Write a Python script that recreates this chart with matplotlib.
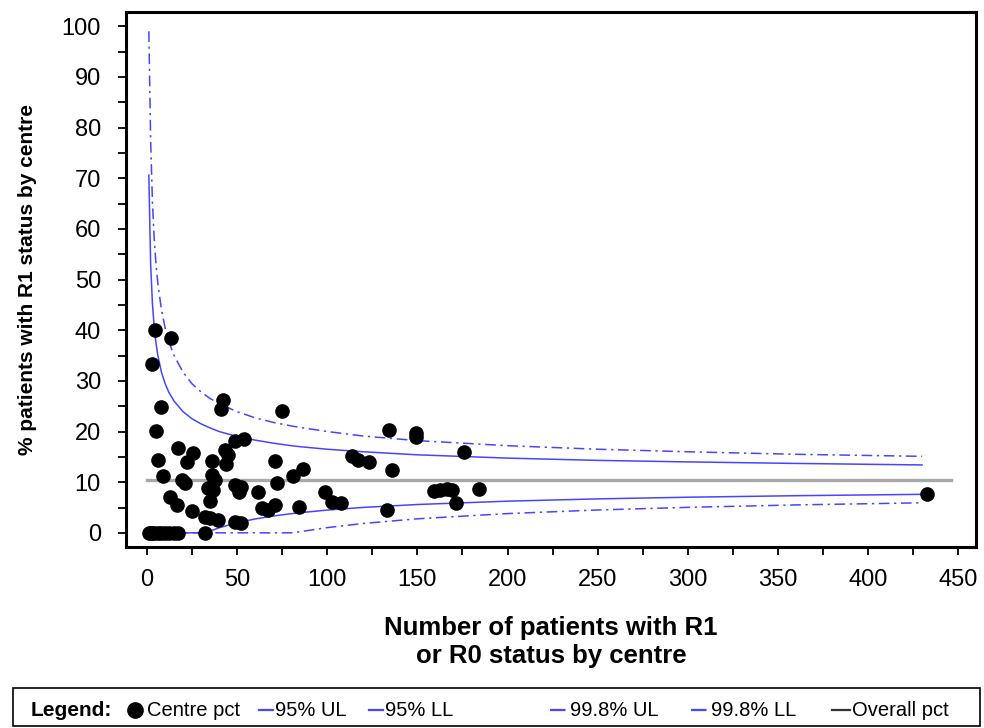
import numpy as np
import matplotlib
matplotlib.use("Agg")
import matplotlib.pyplot as plt
from matplotlib.lines import Line2D

plt.rcParams['font.family'] = ['Liberation Sans', 'DejaVu Sans']

# ==========================================================
# DATA: centre pct (n patients, % with R1)
# ==========================================================

centre_n = [1, 2, 3, 4, 6, 8, 10, 12, 15, 17,
            4.4, 13.1, 2.9, 42, 41, 7.8, 4.8,
            49, 54, 17.4, 25.7, 43, 45, 44, 6.3, 22, 36,
            9.1, 19.2, 21.1, 36, 37.7, 34, 36.8, 49, 51, 52,
            12.8, 16.5, 35, 24.8, 32.2, 35, 39.6, 49, 52, 32.2,
            75, 71, 86.8, 81.2, 72, 61.4, 63.6, 67.3, 71, 84.4,
            98.8, 102.5, 107.7,
            134.5, 149, 149, 113.6, 117.3, 123.4, 136.1, 175.9, 184.4,
            159, 162.6, 166.3, 169, 171.3, 133.4, 433]
centre_pct = [0, 0, 0, 0, 0, 0, 0, 0, 0, 0,
              40.0, 38.5, 33.3, 26.2, 24.5, 24.9, 20.1,
              18.2, 18.6, 16.7, 15.7, 16.4, 15.3, 13.6, 14.3, 13.9, 14.1,
              11.2, 10.4, 9.8, 11.4, 10.4, 8.8, 8.5, 9.5, 8.0, 9.0,
              7.0, 5.5, 6.2, 4.4, 3.2, 2.9, 2.6, 2.2, 1.9, 0,
              24.1, 14.2, 12.6, 11.2, 9.8, 8.1, 4.9, 4.5, 5.5, 5.1,
              8.1, 6.0, 5.9,
              20.3, 19.7, 18.9, 15.1, 14.4, 13.9, 12.4, 16.0, 8.7,
              8.2, 8.5, 8.6, 8.4, 5.9, 4.5, 7.7]

# control limits
limit_n = [1, 2, 3, 4, 5, 6, 8, 10, 12, 15, 20, 25, 30, 35, 40, 50, 60,
           70, 80, 85, 100, 120, 150, 200, 250, 300, 360, 430]
ul95 = [70.6, 53.0, 45.2, 40.5, 37.4, 35.0, 31.7, 29.5, 27.8, 26.0, 23.9,
        22.5, 21.5, 20.7, 20.0, 19.0, 18.3, 17.7, 17.2, 17.0, 16.5, 16.0,
        15.4, 14.75, 14.3, 14.0, 13.7, 13.4]
ll95 = [0, 0, 0, 0, 0, 0, 0, 0, 0, 0, 0, 0, 0, 0.34, 1.0, 2.0, 2.74,
        3.32, 3.78, 3.98, 4.49, 5.02, 5.59, 6.25, 6.70, 7.03, 7.33, 7.60]
ul998 = [99.0, 77.5, 65.2, 57.9, 52.9, 49.2, 44.0, 40.5, 37.8, 35.0, 31.7,
         29.4, 27.8, 26.5, 25.5, 23.9, 22.7, 21.8, 21.1, 20.8, 20.0, 19.1,
         18.2, 17.2, 16.5, 16.0, 15.5, 15.1]
ll998 = [0, 0, 0, 0, 0, 0, 0, 0, 0, 0, 0, 0, 0, 0, 0, 0, 0,
         0, 0, 0.23, 1.03, 1.85, 2.77, 3.80, 4.51, 5.03, 5.51, 5.93]

overall_pct = 10.5
overall_range = [0, 446]

# ==========================================================
# PLOT
# ==========================================================

blue = "#4646ff"
dashdot = (0, (7, 3, 1.5, 3))

fig = plt.figure(figsize=(9.84, 7.28), dpi=100)
ax = fig.add_axes([0.128, 0.2486, 0.864, 0.7349])

ax.plot(overall_range, [overall_pct, overall_pct], color="#a8a8a8", lw=2.4, zorder=1)
ax.plot(limit_n, ul95, color=blue, lw=1.1, zorder=2)
ax.plot(limit_n, ll95, color=blue, lw=1.1, zorder=2)
ax.plot(limit_n, ul998, color=blue, lw=1.1, ls=dashdot, zorder=2)
ax.plot(limit_n, ll998, color=blue, lw=1.1, ls=dashdot, zorder=2)
ax.plot(centre_n, centre_pct, "o", color="black", ms=9.5, zorder=3)

ax.set_xlim(-11.7, 460)
ax.set_ylim(-2.8, 102.8)
ax.set_xticks(np.arange(0, 451, 50))
ax.set_xticks(np.arange(0, 451, 25), minor=True)
ax.set_yticks(np.arange(0, 101, 10))
ax.set_yticks(np.arange(0, 101, 5), minor=True)
ax.tick_params(which="both", direction="out", length=6, width=1.3, labelsize=17, colors="black")
ax.tick_params(axis="x", pad=10)
ax.tick_params(axis="y", pad=12)
for s in ax.spines.values():
    s.set_linewidth(2.2)

ax.set_ylabel("% patients with R1 status by centre", fontsize=15, fontweight="bold", labelpad=18)
ax.set_xlabel("Number of patients with R1\nor R0 status by centre", fontsize=18.5, fontweight="bold",
              labelpad=18, linespacing=1.2)

# legend strip at the bottom
fig.patches.append(plt.Rectangle((13 / 984, 2 / 728), 967 / 984, 38 / 728, transform=fig.transFigure,
                                 fill=False, edgecolor="black", lw=1.2))
ly = 1 - 710 / 728
fig.text(31 / 984, ly, "Legend:", fontsize=15, fontweight="bold", va="center")
fig.add_artist(Line2D([135 / 984], [ly], marker="o", color="black", ms=11, transform=fig.transFigure))
fig.text(147 / 984, ly, "Centre pct", fontsize=14.5, va="center")
items = [(259, 273, "95% UL", "-", blue), (369, 383, "95% LL", "-", blue),
         (550, 568, "99.8% UL", dashdot, blue), (691, 709, "99.8% LL", dashdot, blue),
         (832, 850, "Overall pct", "-", "#333333")]
for x0, x1, lab, ls, col in items:
    fig.add_artist(Line2D([x0 / 984, x1 / 984], [ly, ly], color=col, lw=1.6, ls=ls,
                          transform=fig.transFigure))
    fig.text((x1 + 2) / 984, ly, lab, fontsize=14.5, va="center")

fig.savefig("out.png", dpi=100)
